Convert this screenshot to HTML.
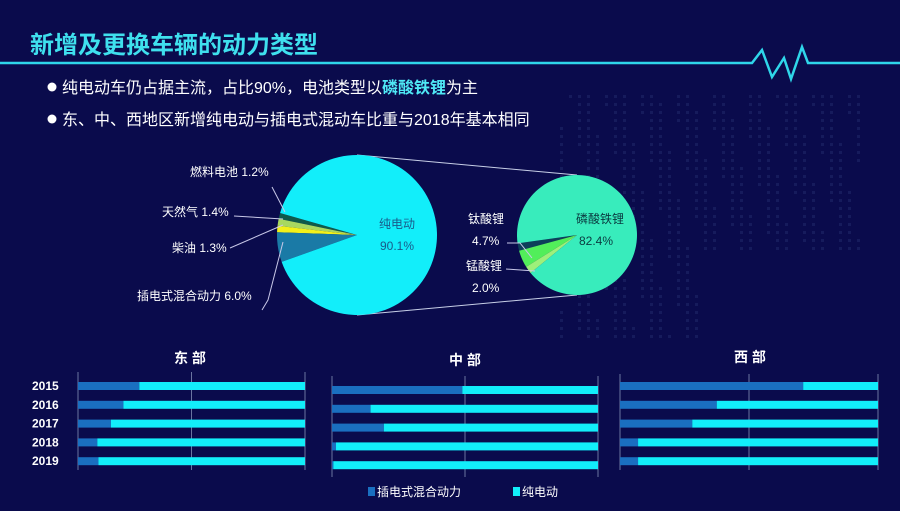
<!DOCTYPE html>
<html><head><meta charset="utf-8">
<style>
html,body{margin:0;padding:0;}
body{width:900px;height:506px;background:#0a0b4c;overflow:hidden;font-family:"Liberation Sans","Noto Sans CJK SC",sans-serif;}
svg text{font-family:"Liberation Sans","Noto Sans CJK SC",sans-serif;}
</style></head>
<body>
<svg width="900" height="506" viewBox="0 0 900 506">
<rect width="900" height="506" fill="#0a0b4c"/>
<g id="dots" opacity="0.12"></g>
<text x="30" y="53" font-size="24" font-weight="bold" fill="#3fe0ee">新增及更换车辆的动力类型</text>
<polyline points="0,63 752,63 762,50 772,77 784,58 791,79 802,47 808,63 900,63" fill="none" stroke="#2fd6ea" stroke-width="2.5"/>
<circle cx="52" cy="87" r="4.5" fill="#fff"/>
<text x="62" y="93" font-size="16" fill="#fff">纯电动车仍占据主流，占比90%，电池类型以<tspan fill="#4fe8f5" font-weight="bold">磷酸铁锂</tspan>为主</text>
<circle cx="52" cy="119" r="4.5" fill="#fff"/>
<text x="62" y="125" font-size="16" fill="#fff">东、中、西地区新增纯电动与插电式混动车比重与2018年基本相同</text>
<g id="pies"></g>
<g id="bars"></g>
</svg>
<script>
const NS='http://www.w3.org/2000/svg';
function mk(tag,attrs,parent){const e=document.createElementNS(NS,tag);for(const k in attrs)e.setAttribute(k,attrs[k]);parent.appendChild(e);return e;}
const dg=document.getElementById('dots');
for(let y=95;y<340;y+=8){for(let x=560;x<860;x+=9){if(((x*7+y*3)%23)<14 && !(x>700&&y>250)){const d=mk('rect',{x:x,y:y,width:3,height:3,fill:'#6f8fd0'},dg);

}}}

const mainCats=['燃料电池','天然气','柴油','插电式混合动力','纯电动'];
const mainVals=[1.2,1.4,1.3,6.0,90.1];
const mainColors=['#0f5a4a','#a8d860','#f2f01a','#1a7aa6','#12eefa'];
const subCats=['其他','钛酸锂','锰酸锂','磷酸铁锂'];
const subVals=[2.0,4.7,2.0,91.3];
const subLabels=['','4.7%','2.0%','82.4%'];
const subColors=['#0d3f5a','#52ee5a','#9ef07a','#38ecbc'];
const pg=document.getElementById('pies');
function pie(cx,cy,r,vals,colors,start,names){
  let a=start;const tot=vals.reduce((s,v)=>s+v,0);
  vals.forEach((v,i)=>{const sweep=v/tot*360;const a2=a-sweep;
    const p1=[cx+r*Math.cos(a*Math.PI/180),cy+r*Math.sin(a*Math.PI/180)];
    const p2=[cx+r*Math.cos(a2*Math.PI/180),cy+r*Math.sin(a2*Math.PI/180)];
    const large=sweep>180?1:0;
    const p=mk('path',{d:`M${cx},${cy}L${p1[0]},${p1[1]}A${r},${r} 0 ${large} 0 ${p2[0]},${p2[1]}Z`,fill:colors[i]},pg);
    
    
    a=a2;});
}
mk('line',{x1:357,y1:155,x2:577,y2:175,stroke:'#c8d0e8','stroke-width':1},pg);
mk('line',{x1:357,y1:315,x2:577,y2:295,stroke:'#c8d0e8','stroke-width':1},pg);
pie(357,235,80,mainVals,mainColors,196,['fuel-cell','natural-gas','diesel','phev','bev']);
pie(577,235,60,subVals,subColors,172,['other','lto','lmo','lfp']);
function txt(x,y,s,size,fill,name,anchor){const t=mk('text',{x:x,y:y,'font-size':size,fill:fill,'text-anchor':anchor||'start'},pg);t.textContent=s;

return t;}
txt(397,228,'纯电动',12,'#1a5a8a','bev-label','middle');
txt(397,250,'90.1%',12,'#1a5a8a','bev-value','middle');
txt(190,176,'燃料电池 '+mainVals[0]+'%',12,'#fff','fuel-cell-label');
txt(162,216,'天然气 '+mainVals[1]+'%',12,'#fff','natural-gas-label');
txt(172,252,'柴油 '+mainVals[2]+'%',12,'#fff','diesel-label');
txt(137,300,'插电式混合动力 '+mainVals[3].toFixed(1)+'%',12,'#fff','phev-label');
const lp='#c8c8e8';
mk('polyline',{points:'272,187 285,212',fill:'none',stroke:lp},pg);
mk('polyline',{points:'234,216 283,219',fill:'none',stroke:lp},pg);
mk('polyline',{points:'230,248 283,225',fill:'none',stroke:lp},pg);
mk('polyline',{points:'262,310 268,300 283,242',fill:'none',stroke:lp},pg);
txt(600,223,'磷酸铁锂',12,'#0a3a40','lfp-label','middle');
txt(596,245,subLabels[3],12,'#0a3a40','lfp-value','middle');
txt(468,223,'钛酸锂',12,'#fff','lto-label');
txt(472,245,subLabels[1],12,'#fff','lto-value');
txt(466,270,'锰酸锂',12,'#fff','lmo-label');
txt(472,292,subLabels[2],12,'#fff','lmo-value');
mk('polyline',{points:'507,243 520,243 532,258',fill:'none',stroke:lp},pg);
mk('polyline',{points:'506,269 535,271',fill:'none',stroke:lp},pg);

const years=['2015','2016','2017','2018','2019'];
const eastPHEV=[27,20,14.5,8.5,9];
const centralPHEV=[49,14.5,19.5,1.5,0.5];
const westPHEV=[71,37.5,28,7,7];
const regionNames=['东 部','中 部','西 部'];
const bg=document.getElementById('bars');
const panels=[{x0:78,x1:305,y0:386,tx:190,ty:363,vals:eastPHEV,key:'east',top:372,bot:470},
{x0:332,x1:598,y0:390,tx:465,ty:365,vals:centralPHEV,key:'central',top:376,bot:477},
{x0:620,x1:878,y0:386,tx:750,ty:362,vals:westPHEV,key:'west',top:374,bot:470}];
panels.forEach((P,pi)=>{
  const xs=v=>P.x0+(P.x1-P.x0)*v/100;
  const ys=i=>P.y0+i*18.8;
  const g=mk('g',{},bg);
  
  
  const t=mk('text',{x:P.tx,y:P.ty,'font-size':14,'font-weight':'bold',fill:'#fff','text-anchor':'middle'},g);t.textContent=regionNames[pi];
  
  
  [0,50,100].forEach(v=>{const l=mk('line',{x1:xs(v),x2:xs(v),y1:P.top,y2:P.bot,stroke:'#6a74a0','stroke-width':1},g);
    
    });
  P.vals.forEach((v,i)=>{
    const y=ys(i)-4;
    const a=mk('rect',{x:xs(0),y:y,width:xs(v)-xs(0),height:8,fill:'#1a6fc0'},g);
    
    
    const b=mk('rect',{x:xs(v),y:y,width:xs(100)-xs(v),height:8,fill:'#12eefa'},g);
    
    
  });
});
years.forEach((yr,i)=>{const t=mk('text',{x:32,y:390+i*18.8,'font-size':12,'font-weight':'bold',fill:'#fff'},bg);t.textContent=yr;
  
  });
const l1=mk('rect',{x:368,y:487,width:7,height:9,fill:'#1a6fc0'},bg);


const lt1=mk('text',{x:377,y:496,'font-size':12,fill:'#fff'},bg);lt1.textContent='插电式混合动力';


const l2=mk('rect',{x:513,y:487,width:7,height:9,fill:'#12eefa'},bg);


const lt2=mk('text',{x:522,y:496,'font-size':12,fill:'#fff'},bg);lt2.textContent='纯电动';


</script>
</body></html>
